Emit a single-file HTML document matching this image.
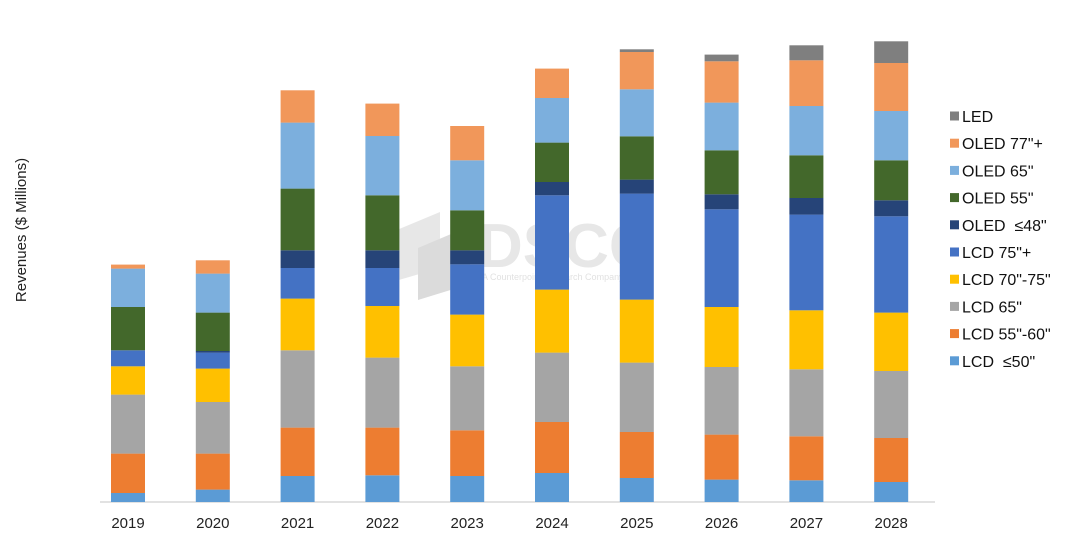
<!DOCTYPE html>
<html><head><meta charset="utf-8"><style>
body{margin:0;background:#fff;width:1080px;height:547px;overflow:hidden;font-family:"Liberation Sans",sans-serif}
</style></head><body>
<svg id="c" width="1080" height="547" xmlns="http://www.w3.org/2000/svg" font-family="Liberation Sans, sans-serif">
<g opacity="0.35">
<polygon points="392,232 440,212 440,268 392,282" fill="#bbb"/>
<polygon points="418,248 470,226 470,284 418,300" fill="#999"/>
<text x="478" y="267" font-size="62" fill="#bbb" font-weight="bold">DSCC</text>
<text x="482" y="280" font-size="9" fill="#aaa">A Counterpoint Research Company</text>
</g>
<text transform="translate(26,230) rotate(-90)" text-anchor="middle" font-size="15" fill="#222">Revenues ($ Millions)</text>
<line x1="100" y1="502" x2="935" y2="502" stroke="#d9d9d9" stroke-width="1.5"/>
<g id="bars"></g><g id="xl"></g><g id="lg"></g>
</svg>
<script>
const years=["2019","2020","2021","2022","2023","2024","2025","2026","2027","2028"];
const seriesNames=["LCD  ≤50\"","LCD 55\"-60\"","LCD 65\"","LCD 70\"-75\"","LCD 75\"+","OLED  ≤48\"","OLED 55\"","OLED 65\"","OLED 77\"+","LED"];
const colors=["#5b9bd5","#ed7d31","#a5a5a5","#ffc000","#4472c4","#264478","#43682b","#7cafdd","#f1975a","#7f7f7f"];
const lcd50=[9,12.4,26,26.7,26,29,24,22.4,21.7,20];
const lcd55=[39.4,36,48.4,47.7,45.7,51,46,45,44,44];
const lcd65=[59,51.6,77.3,70,64,69.4,69.4,67.6,67,67];
const lcd70=[28.3,33.4,51.7,51.6,51.7,63,63,60,59,58.4];
const lcd75=[16,16,30.6,38,50.3,94.3,106,97.7,95.7,96.3];
const oled48=[0,1.6,17.7,17.7,14,13.3,14,15,16.6,16];
const oled55=[43.3,38.4,61.7,55,40,39.4,43.3,44,42.7,40];
const oled65=[38.4,39,66,59.3,50,44.6,47,47.7,49.3,49.3];
const oled77=[4,13.3,32.3,32.4,34.3,29.4,37.3,41.3,45.7,48];
const led=[0,0,0,0,0,0,2.7,6.7,15,21.7];
const series=[lcd50,lcd55,lcd65,lcd70,lcd75,oled48,oled55,oled65,oled77,led];
const NS="http://www.w3.org/2000/svg";
const base=502, scale=1;
const yPos=v=>base-v*scale;
const xPos=i=>128+i*84.8;
const bw=34;
const bars=document.getElementById('bars');
years.forEach((yr,i)=>{
  let acc=0;
  series.forEach((s,k)=>{
    const v=s[i]; if(v<=0){return;}
    const r=document.createElementNS(NS,'rect');
    
    
    r.setAttribute('x',xPos(i)-bw/2);
    r.setAttribute('y',yPos(acc+v));
    r.setAttribute('width',bw);
    r.setAttribute('height',v*scale);
    r.setAttribute('fill',colors[k]);
    bars.appendChild(r);
    acc+=v;
  });
  const t=document.createElementNS(NS,'text');
  
  
  t.setAttribute('x',xPos(i));t.setAttribute('y',528);
  t.setAttribute('text-anchor','middle');t.setAttribute('font-size','15');t.setAttribute('fill','#222');
  t.textContent=yr;
  document.getElementById('xl').appendChild(t);
});
const lg=document.getElementById('lg');
for(let j=0;j<10;j++){
  const k=9-j, y=116+j*27.2;
  const m=document.createElementNS(NS,'rect');
  
  
  m.setAttribute('x',950);m.setAttribute('y',y-4.5);m.setAttribute('width',9);m.setAttribute('height',9);
  m.setAttribute('fill',colors[k]);lg.appendChild(m);
  const t=document.createElementNS(NS,'text');
  
  
  t.setAttribute('x',962);t.setAttribute('y',y+6);t.setAttribute('font-size','16');t.setAttribute('fill','#111');
  t.setAttribute('xml:space','preserve');t.style.whiteSpace='pre';
  t.textContent=seriesNames[k];lg.appendChild(t);
}
</script>
</body></html>
